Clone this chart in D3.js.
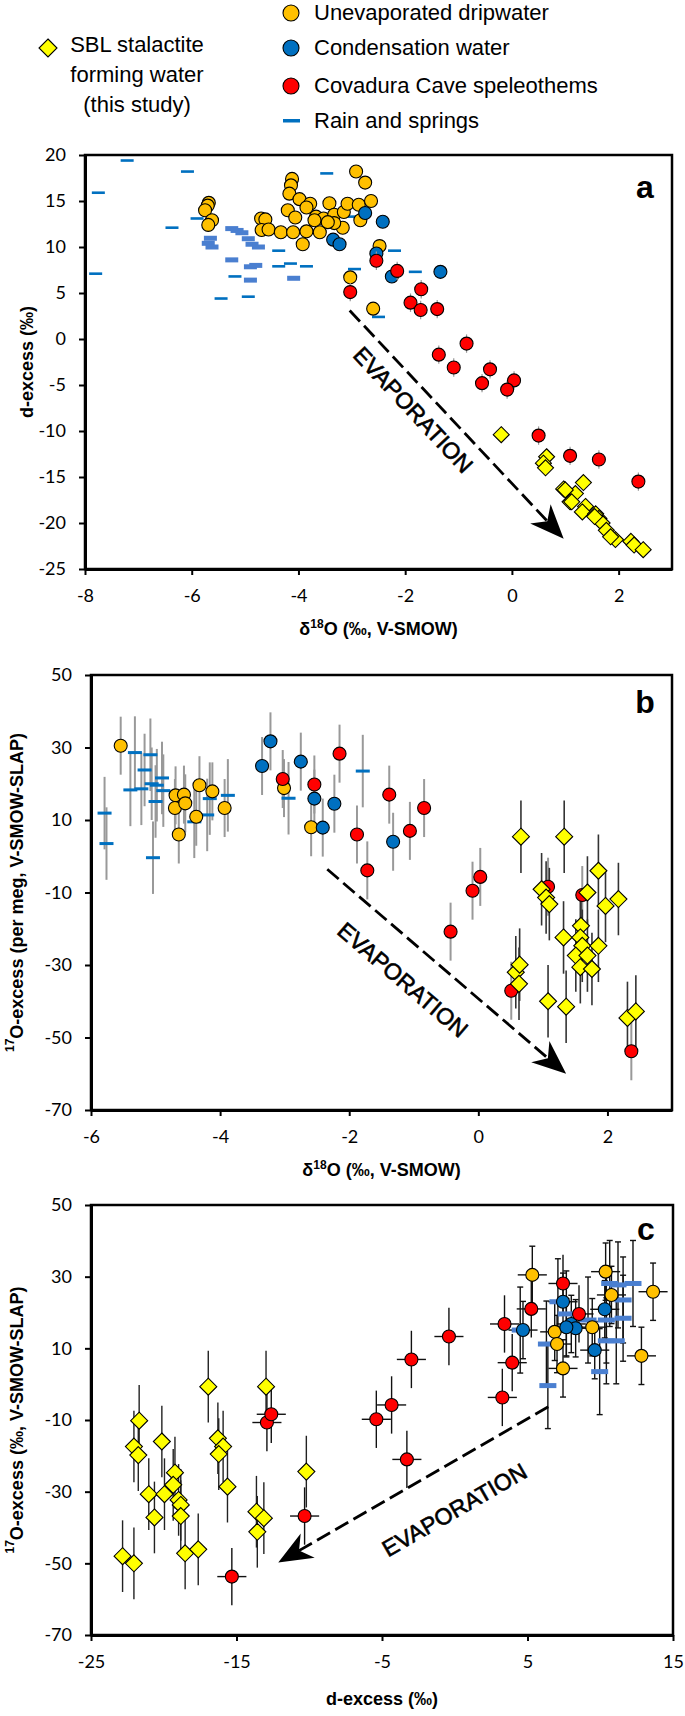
<!DOCTYPE html>
<html lang="en">
<head>
<meta charset="UTF-8">
<title>d-excess and 17O-excess of cave waters</title>
<script src="https://cdnjs.cloudflare.com/ajax/libs/d3/7.8.5/d3.min.js"></script>
<style>
  body { margin: 0; background: #fff; }
  svg { display: block; font-family: "Liberation Sans", Arial, sans-serif; }
  .tick text { font-family: Lato, "Liberation Sans", sans-serif; font-size: 18px; fill: #000; }
  .tick line { stroke: #000; stroke-width: 2; }
  .domain { stroke: #000; stroke-width: 3; }
</style>
</head>
<body>
<svg id="chart" width="685" height="1716"></svg>
<script>
// ---- panel a : d-excess vs d18O ----
const aDrip = [[-5.68,14.8],[-5.7,14.5],[-5.75,14.0],[-5.62,12.9],[-5.69,12.4],
  [-4.12,17.4],[-4.14,16.7],[-4.17,15.8],[-3.98,15.2],[-3.78,14.7],[-3.85,14.3],[-4.2,14.0],
  [-4.06,13.2],[-3.67,13.3],[-3.53,13.1],[-3.42,14.75],[-3.33,13.5],[-3.15,13.8],[-3.08,14.7],
  [-2.87,14.6],[-2.64,15.0],[-2.84,12.9],[-3.17,12.1],[-4.7,13.1],[-4.62,13.0],[-4.69,11.85],
  [-4.56,11.9],[-4.33,11.6],[-4.1,11.6],[-3.85,11.7],[-3.6,11.6],[-3.92,10.3],[-2.92,18.2],
  [-2.75,17.0],[-3.33,12.6],[-3.7,12.9],[-3.45,12.7],[-2.48,10.1],[-3.03,6.7],[-2.6,3.3]];
const aCond = [[-2.75,13.7],[-2.42,12.75],[-3.35,10.8],[-3.23,10.3],[-2.54,9.3],[-2.25,6.8],[-1.34,7.3]];
const aCave = [[-2.54,8.5],[-2.15,7.4],[-3.03,5.1],[-1.7,5.4],[-1.9,3.95],[-1.71,3.15],[-1.4,3.25],
  [-0.85,-0.5],[-1.37,-1.7],[-1.09,-3.1],[-0.41,-3.3],[0.04,-4.5],[-0.56,-4.8],[-0.09,-5.5],
  [0.5,-10.5],[1.09,-12.7],[1.63,-13.1],[2.37,-15.5]];
const aSBL = [[-0.2,-10.4],[0.65,-12.8],[0.59,-13.5],[0.63,-14.0],[1.34,-15.6],[0.97,-16.3],
  [1.19,-16.8],[1.09,-17.7],[1.38,-18.2],[1.32,-18.8],[1.57,-19.0],[1.63,-19.5],[1.69,-20.0],
  [1.77,-20.8],[1.94,-21.8],[1.85,-21.5],[2.23,-22.0],[2.29,-22.4],[2.46,-22.9],[1.0,-16.4],
  [1.12,-17.7],[1.55,-19.3]];
const aRainThin = [[-7.75,15.9],[-7.8,7.1],[-7.21,19.4],[-6.08,18.2],[-6.37,12.1],[-5.9,13.1],
  [-5.45,4.4],[-5.19,6.8],[-4.94,4.6],[-4.37,9.6],[-4.37,7.9],[-4.15,8.2],[-3.85,7.9],
  [-3.47,18.0],[-3.0,13.3],[-2.95,7.6],[-2.2,9.6],[-1.81,7.3],[-2.5,2.4]];
const aRainThick = [[-5.65,10.95],[-5.69,10.4],[-5.62,10.0],[-5.25,12.0],[-5.15,11.8],[-5.06,11.55],
  [-4.94,10.9],[-4.87,10.3],[-4.75,10.0],[-5.25,8.6],[-4.9,7.85],[-4.8,8.0],[-4.9,6.4],[-4.09,6.6]];
const aArrow = [[-3.04,3.1],[0.97,-21.7]];
const aLabel = [-1.85,-7.7];

// ---- panel b : 17O-excess vs d18O ----
const bDrip = [[-5.54,30.5],[-4.69,16.8],[-4.56,17.0],[-4.7,13.3],[-4.54,14.6],[-4.64,6.0],
  [-4.32,19.6],[-4.37,10.9],[-4.12,17.9],[-3.93,13.3],[-3.01,18.8],[-2.59,8.0]];
const bCond = [[-3.35,24.9],[-3.22,31.7],[-2.75,26.1],[-2.54,15.9],[-2.41,7.9],[-2.23,14.5],[-1.32,4.0]];
const bCave = [[-3.03,21.3],[-2.54,19.8],[-2.15,28.3],[-1.88,6.0],[-1.38,17.0],[-1.06,7.0],
  [-0.84,13.3],[-1.72,-3.9],[0.03,-5.7],[-0.09,-9.5],[-0.43,-20.8],[0.51,-37.1],[1.08,-8.4],
  [1.61,-10.7],[2.37,-53.8]];
const bSBL = [[0.66,5.4],[1.33,5.4],[1.86,-4.0],[0.98,-9.1],[1.05,-11.4],[1.1,-13.2],[0.58,-32.0],
  [0.64,-29.9],[0.63,-35.2],[1.08,-40.0],[1.32,-22.4],[1.36,-41.5],[1.59,-19.2],[1.58,-22.4],
  [1.61,-24.7],[1.51,-27.4],[1.69,-27.4],[1.58,-30.6],[1.76,-31.1],[1.69,-10.0],[1.97,-13.7],
  [1.86,-24.7],[2.17,-11.8],[2.31,-44.6],[2.44,-42.8]];
const bRain = [[-5.79,11.9],[-5.76,3.5],[-5.39,18.3],[-5.32,28.6],[-5.22,18.6],[-5.17,23.8],
  [-5.08,28.0],[-5.06,20.0],[-4.98,19.6],[-5.0,15.1],[-4.9,21.6],[-4.88,18.1],[-5.04,-0.4],
  [-4.4,9.5],[-4.2,11.4],[-4.16,15.9],[-3.88,16.8],[-2.94,16.0],[-1.79,23.5]];
const bArrow = [[-2.34,-3.6],[1.36,-60.0]];
const bLabel = [-1.17,-34.1];

// ---- panel c : 17O-excess vs d-excess ----
const cDrip = [[5.33,30.5],[10.37,31.4],[10.77,24.9],[13.63,25.8],[9.45,15.9],[6.87,14.6],
  [7.03,11.2],[7.44,4.4],[12.83,7.9]];
const cCond = [[7.44,23.0],[4.69,15.1],[10.31,20.9],[8.01,16.8],[8.31,15.6],[7.67,15.9],[9.62,9.5]];
const cCave = [[7.44,28.1],[5.26,21.0],[8.54,19.6],[3.42,16.8],[3.95,6.0],[3.27,-3.7],
  [-12.91,-10.7],[-12.61,-8.4],[-5.39,-9.8],[-4.34,-5.8],[-2.98,6.9],[-0.4,13.3],
  [-3.29,-21.0],[-10.32,-36.8],[-15.32,-53.7]];
const cSBL = [[-16.94,-0.7],[-12.97,-0.7],[-21.69,-10.2],[-22.05,-17.4],[-20.13,-16.0],
  [-16.28,-15.1],[-15.92,-17.4],[-21.75,-19.8],[-16.22,-19.5],[-19.23,-24.7],[-15.62,-28.6],
  [-21.03,-30.7],[-19.95,-30.7],[-19.35,-28.1],[-18.98,-32.3],[-18.83,-33.7],[-18.83,-36.8],
  [-20.64,-37.2],[-13.63,-35.6],[-13.12,-37.4],[-13.57,-41.2],[-18.53,-47.2],[-17.63,-46.1],
  [-22.83,-48.0],[-22.05,-50.0],[-10.2,-24.4]];
const cRain = [[11.22,27.7],[12.25,28.1],[10.65,28.1],[7.09,23.0],[11.57,23.5],[11.57,18.4],
  [10.42,17.9],[9.16,17.9],[7.67,19.6],[10.42,12.1],[11.1,12.1],[9.96,3.5],[6.4,-0.4],
  [4.5,15.1],[6.3,11.2]];
const cArrow = [[6.43,-6.3],[-12.13,-49.8]];
const cLabel = [-0.02,-35.1];

// error bar half-widths
const errA = {cave: 1.0};
const errB = {rain: 10, drip: 8, cond: 8, cave: 8, sbl: 10};
const errC = {rain: 12, drip: 8, cond: 8, cave: 8, sbl: 10, dx: 1.0};

const legendItems = ["Unevaporated dripwater", "Condensation water", "Covadura Cave speleothems", "Rain and springs"];
const legendSBL = ["SBL stalactite", "forming water", "(this study)"];

const COL = {drip: "#FFC000", cond: "#0070C0", cave: "#FF0000", sbl: "#FFFF00",
  rain: "#0070C0", rainLight: "#4A7FD0"};

const svg = d3.select("#chart");

function makePanel(p) {
  const x = d3.scaleLinear().domain(p.xDomain).range([p.left, p.right]);
  const y = d3.scaleLinear().domain(p.yDomain).range([p.bottom, p.top]);
  const g = svg.append("g");
  g.append("rect")
    .attr("x", p.left).attr("y", p.top)
    .attr("width", p.right - p.left).attr("height", p.bottom - p.top)
    .attr("fill", "none").attr("stroke", "#000").attr("stroke-width", 2.5);
  g.append("g").attr("transform", `translate(0,${p.bottom})`)
    .call(d3.axisBottom(x).tickValues(p.xTicks).tickSize(6).tickSizeOuter(0).tickPadding(14).tickFormat(d => String(d)));
  g.append("g").attr("transform", `translate(${p.left},0)`)
    .call(d3.axisLeft(y).tickValues(p.yTicks).tickSize(6).tickSizeOuter(0).tickPadding(13).tickFormat(d => String(d)));
  g.selectAll(".tick text").attr("fill", "#000");
  g.append("text").attr("x", p.right - 27).attr("y", p.top + p.tagDy)
    .attr("text-anchor", "middle").attr("font-weight", "bold").attr("font-size", 32)
    .text(p.tag);
  return {g, x, y};
}

function vBars(P, data, e, color, w, cap) {
  const g = P.g.append("g").attr("stroke", color).attr("stroke-width", w);
  data.forEach(d => {
    const cx = P.x(d[0]);
    g.append("line").attr("x1", cx).attr("x2", cx).attr("y1", P.y(d[1] - e)).attr("y2", P.y(d[1] + e));
    if (cap) {
      [d[1] - e, d[1] + e].forEach(v => g.append("line")
        .attr("x1", cx - cap).attr("x2", cx + cap).attr("y1", P.y(v)).attr("y2", P.y(v)));
    }
  });
}

function hBars(P, data, e, color, w) {
  const g = P.g.append("g").attr("stroke", color).attr("stroke-width", w);
  data.forEach(d => {
    g.append("line").attr("y1", P.y(d[1])).attr("y2", P.y(d[1]))
      .attr("x1", P.x(d[0] - e)).attr("x2", P.x(d[0] + e));
  });
}

function circles(P, data, fill, r) {
  P.g.append("g").selectAll("circle").data(data).join("circle")
    .attr("cx", d => P.x(d[0])).attr("cy", d => P.y(d[1])).attr("r", r)
    .attr("fill", fill).attr("stroke", "#000").attr("stroke-width", 1.1);
}

function diamonds(P, data, s) {
  P.g.append("g").selectAll("path").data(data).join("path")
    .attr("transform", d => `translate(${P.x(d[0])},${P.y(d[1])})`)
    .attr("d", `M0,${-s}L${s},0L0,${s}L${-s},0Z`)
    .attr("fill", COL.sbl).attr("stroke", "#000").attr("stroke-width", 1.1);
}

function dashes(P, data, color, w, h) {
  P.g.append("g").selectAll("rect").data(data).join("rect")
    .attr("x", d => P.x(d[0]) - w / 2).attr("y", d => P.y(d[1]) - h / 2)
    .attr("width", w).attr("height", h).attr("fill", color);
}

function arrow(P, pts, label) {
  const x0 = P.x(pts[0][0]), y0 = P.y(pts[0][1]);
  const x1 = P.x(pts[1][0]), y1 = P.y(pts[1][1]);
  const a = Math.atan2(y1 - y0, x1 - x0);
  const L = 34, hw = 14, notch = 10;
  const ux = Math.cos(a), uy = Math.sin(a), nx = -uy, ny = ux;
  const bx = x1 - ux * L, by = y1 - uy * L;
  P.g.append("line")
    .attr("x1", x0).attr("y1", y0)
    .attr("x2", x1 - ux * (L - notch)).attr("y2", y1 - uy * (L - notch))
    .attr("stroke", "#000").attr("stroke-width", 2.8).attr("stroke-dasharray", "15,6");
  P.g.append("path")
    .attr("d", `M${x1},${y1}L${bx + nx * hw},${by + ny * hw}L${x1 - ux * (L - notch)},${y1 - uy * (L - notch)}L${bx - nx * hw},${by - ny * hw}Z`)
    .attr("fill", "#000");
  let deg = a * 180 / Math.PI;
  if (deg > 90) deg -= 180;
  if (deg < -90) deg += 180;
  P.g.append("text")
    .attr("transform", `translate(${P.x(label[0])},${P.y(label[1])}) rotate(${deg})`)
    .attr("text-anchor", "middle").attr("dy", "0.35em")
    .attr("font-size", 23).attr("stroke", "#000").attr("stroke-width", 0.6)
    .text("EVAPORATION");
}

function xTitle(P, p, dy) {
  const t = P.g.append("text").attr("x", (p.left + p.right) / 2).attr("y", p.bottom + dy)
    .attr("text-anchor", "middle").attr("font-weight", "bold").attr("font-size", 18);
  t.append("tspan").text("\u03b4");
  t.append("tspan").attr("font-size", 12).attr("dy", -7).text("18");
  t.append("tspan").attr("dy", 7).text("O (\u2030, V-SMOW)");
}

function yTitle(P, p, cx, parts) {
  const t = P.g.append("text")
    .attr("transform", `translate(${cx},${(p.top + p.bottom) / 2}) rotate(-90)`)
    .attr("text-anchor", "middle").attr("font-weight", "bold").attr("font-size", 18)
    .attr("dy", "0.35em");
  if (parts.sup) {
    t.append("tspan").attr("font-size", 12).attr("dy", "-0.05em").text(parts.sup);
    t.append("tspan").attr("dy", "0.45em").text(parts.rest);
  } else {
    t.text(parts.rest);
  }
}

// ---------- legend ----------
const lg = svg.append("g");
const lgText = {size: 22};
lg.append("path").attr("transform", "translate(48,48)").attr("d", "M0,-9L9,0L0,9L-9,0Z")
  .attr("fill", COL.sbl).attr("stroke", "#000").attr("stroke-width", 1.1);
lg.selectAll("text.sbl").data(legendSBL).join("text").attr("class", "sbl")
  .attr("x", 137).attr("y", (d, i) => 52 + i * 30)
  .attr("text-anchor", "middle").attr("font-size", lgText.size).text(d => d);
const legendCols = [COL.drip, COL.cond, COL.cave];
const legendY = [13, 48, 86, 121];
legendItems.forEach((name, i) => {
  if (i < 3) {
    lg.append("circle").attr("cx", 291).attr("cy", legendY[i]).attr("r", 8)
      .attr("fill", legendCols[i]).attr("stroke", "#000").attr("stroke-width", 1.1);
  } else {
    lg.append("rect").attr("x", 283).attr("y", legendY[i] - 2).attr("width", 17).attr("height", 3.5)
      .attr("fill", COL.rain);
  }
  lg.append("text").attr("x", 314).attr("y", legendY[i] + 7).attr("font-size", lgText.size).text(name);
});

// ---------- panel a ----------
const pa = {left: 85, right: 672, top: 155, bottom: 569, xDomain: [-8, 3], yDomain: [-25, 20],
  xTicks: [-8, -6, -4, -2, 0, 2], yTicks: d3.range(-25, 21, 5), tag: "a", tagDy: 43};
const A = makePanel(pa);
dashes(A, aRainThick, COL.rainLight, 13, 5);
dashes(A, aRainThin, COL.rain, 13, 2.6);
circles(A, aDrip, COL.drip, 6.5);
circles(A, aCond, COL.cond, 6.5);
vBars(A, aCave, errA.cave, "#999", 1.2, 0);
circles(A, aCave, COL.cave, 6.5);
diamonds(A, aSBL, 8);
arrow(A, aArrow, aLabel);
xTitle(A, pa, 66);
yTitle(A, pa, 27, {rest: "d-excess (\u2030)"});

// ---------- panel b ----------
const pb = {left: 91, right: 672, top: 675, bottom: 1110, xDomain: [-6, 3], yDomain: [-70, 50],
  xTicks: [-6, -4, -2, 0, 2], yTicks: d3.range(-70, 51, 20), tag: "b", tagDy: 38};
const B = makePanel(pb);
vBars(B, bRain, errB.rain, "#999", 2, 0);
vBars(B, bDrip, errB.drip, "#999", 2, 0);
vBars(B, bCond, errB.cond, "#999", 2, 0);
vBars(B, bCave, errB.cave, "#999", 2, 0);
vBars(B, bSBL, errB.sbl, "#333", 1.6, 0);
dashes(B, bRain, COL.rain, 14, 3);
circles(B, bDrip, COL.drip, 6.5);
circles(B, bCond, COL.cond, 6.5);
circles(B, bCave, COL.cave, 6.5);
diamonds(B, bSBL, 8.5);
arrow(B, bArrow, bLabel);
xTitle(B, pb, 66);
yTitle(B, pb, 15, {sup: "17", rest: "O-excess (per meg, V-SMOW-SLAP)"});

// ---------- panel c ----------
const pc = {left: 91, right: 673, top: 1205, bottom: 1635, xDomain: [-25, 15], yDomain: [-70, 50],
  xTicks: [-25, -15, -5, 5, 15], yTicks: d3.range(-70, 51, 20), tag: "c", tagDy: 35};
const C = makePanel(pc);
vBars(C, cRain, errC.rain, "#111", 1.4, 3);
vBars(C, cDrip, errC.drip, "#111", 1.4, 3);
vBars(C, cCond, errC.cond, "#111", 1.4, 3);
vBars(C, cCave, errC.cave, "#111", 1.4, 0);
vBars(C, cSBL, errC.sbl, "#222", 1.4, 0);
hBars(C, cDrip, errC.dx, "#111", 1.4);
hBars(C, cCond, errC.dx, "#111", 1.4);
hBars(C, cCave, errC.dx, "#111", 1.4);
dashes(C, cRain, COL.rainLight, 17, 5);
circles(C, cDrip, COL.drip, 6.5);
circles(C, cCond, COL.cond, 6.5);
circles(C, cCave, COL.cave, 6.5);
diamonds(C, cSBL, 8.5);
arrow(C, cArrow, cLabel);
C.g.append("text").attr("x", (pc.left + pc.right) / 2).attr("y", pc.bottom + 70)
  .attr("text-anchor", "middle").attr("font-weight", "bold").attr("font-size", 18)
  .text("d-excess (\u2030)");
yTitle(C, pc, 15, {sup: "17", rest: "O-excess (\u2030, V-SMOW-SLAP)"});
</script>
</body>
</html>
